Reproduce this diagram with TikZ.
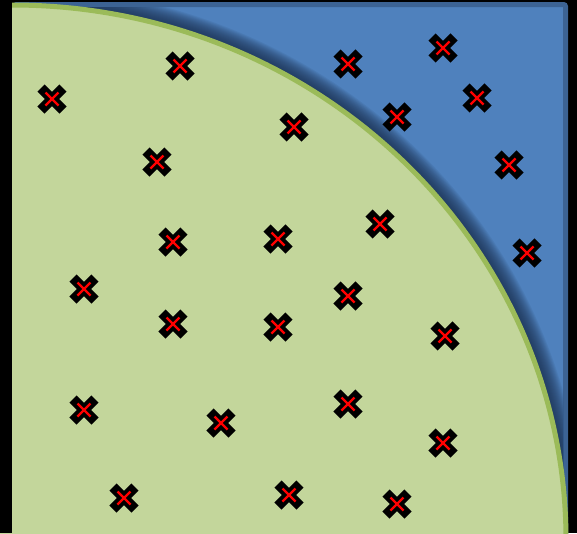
\documentclass[tikz,border=0pt]{standalone}
\begin{document}
\begin{tikzpicture}[x=1pt,y=-1pt,
  xm/.style={minimum size=32pt, inner sep=0pt, draw=none,
    path picture={
      \draw[black, line width=10pt] ([shift={(-11pt,-11pt)}]path picture bounding box.center) -- ([shift={(11pt,11pt)}]path picture bounding box.center);
      \draw[black, line width=10pt] ([shift={(-11pt,11pt)}]path picture bounding box.center) -- ([shift={(11pt,-11pt)}]path picture bounding box.center);
      \draw[red, line width=2.2pt] ([shift={(-6.5pt,-6.5pt)}]path picture bounding box.center) -- ([shift={(6.5pt,6.5pt)}]path picture bounding box.center);
      \draw[red, line width=2.2pt] ([shift={(-6.5pt,6.5pt)}]path picture bounding box.center) -- ([shift={(6.5pt,-6.5pt)}]path picture bounding box.center);
    }}]
\definecolor{bgblue}{HTML}{4F81BD}
\definecolor{edgeblue}{HTML}{3C6394}
\definecolor{shadowblue}{HTML}{1B3050}
\definecolor{greenfill}{HTML}{C3D69B}
\definecolor{greenline}{HTML}{9BBB59}
\fill[black] (0,0) rectangle (577,533);
\useasboundingbox (0,0) rectangle (577,533);
\draw[fill=bgblue, draw=edgeblue, line width=5pt, rounded corners=2pt] (14.5,4.5) rectangle (565.5,560);
\begin{scope}
  \clip (12,7) rectangle (563,540);
  \foreach \w in {2,4,...,36} {
    \draw[shadowblue, opacity=0.085, line width=\w pt] (12,540) ellipse [x radius=554, y radius=535];
  }
\end{scope}
\fill[greenfill] (12,540) ellipse [x radius=554, y radius=535];
\begin{scope}
  \clip (12,0) rectangle (577,533);
  \draw[greenline, line width=5pt] (12,540) ellipse [x radius=554, y radius=535];
\end{scope}
\fill[black] (0,0) rectangle (12,533);
\node[xm] (m1) at (52,99) {};
\node[xm] (m2) at (180,66) {};
\node[xm] (m3) at (348,64) {};
\node[xm] (m4) at (443,48) {};
\node[xm] (m5) at (477,98) {};
\node[xm] (m6) at (397,117) {};
\node[xm] (m7) at (294,127) {};
\node[xm] (m8) at (157,162) {};
\node[xm] (m9) at (509,165) {};
\node[xm] (m10) at (380,224) {};
\node[xm] (m11) at (173,242) {};
\node[xm] (m12) at (278,239) {};
\node[xm] (m13) at (527,253) {};
\node[xm] (m14) at (84,289) {};
\node[xm] (m15) at (348,296) {};
\node[xm] (m16) at (173,324) {};
\node[xm] (m17) at (278,327) {};
\node[xm] (m18) at (445,336) {};
\node[xm] (m19) at (84,410) {};
\node[xm] (m20) at (221,423) {};
\node[xm] (m21) at (348,404) {};
\node[xm] (m22) at (443,443) {};
\node[xm] (m23) at (124,498) {};
\node[xm] (m24) at (289,495) {};
\node[xm] (m25) at (397,504) {};
\end{tikzpicture}
\end{document}
